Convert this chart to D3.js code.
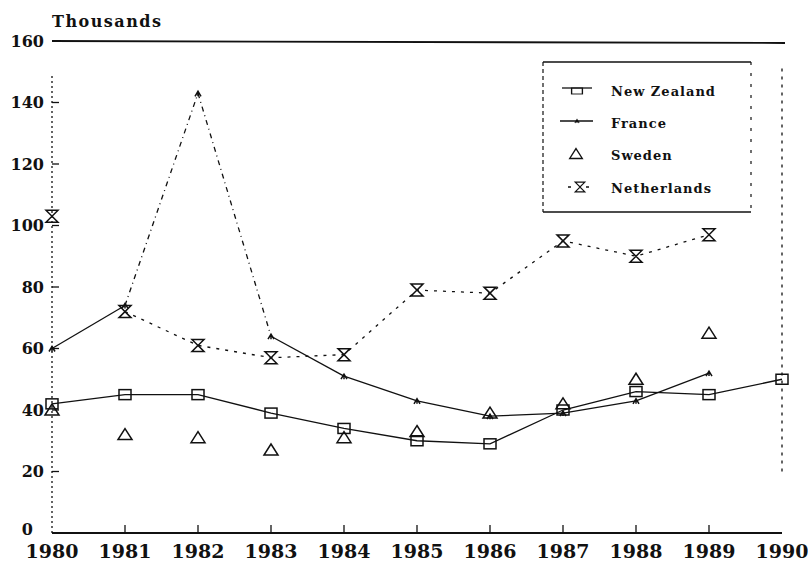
<!DOCTYPE html>
<meta charset="utf-8">
<style>
body { margin: 0; background: #fff; }
text { font-family: "DejaVu Serif", serif; font-weight: bold; fill: #111; }
.line { fill: none; stroke: #111; stroke-width: 1.3px; }
.mark { fill: none; stroke: #111; stroke-width: 1.5px; }
</style>
<body>
<script src="https://d3js.org/d3.v7.min.js"></script>
<script>
var years = [1980, 1981, 1982, 1983, 1984, 1985, 1986, 1987, 1988, 1989, 1990];
var yTicks = [0, 20, 40, 60, 80, 100, 120, 140, 160];

var newZealand = [42, 45, 45, 39, 34, 30, 29, 40, 46, 45, 50];
var france = [60, 74, 143, 64, 51, 43, 38, 39, 43, 52];
var sweden = [40, 32, 31, 27, 31, 33, 39, 42, 50, 65];
var netherlands = [103, 72, 61, 57, 58, 79, 78, 95, 90, 97];

var legendNames = ["New Zealand", "France", "Sweden", "Netherlands"];

var width = 808, height = 563;

var x = d3.scaleLinear().domain([1980, 1990]).range([52, 782]);
var y = d3.scaleLinear().domain([0, 160]).range([533, 41]);

var svg = d3.select("body").append("svg")
    .attr("width", width)
    .attr("height", height);

// frame
svg.append("line")
    .attr("x1", x(1980)).attr("x2", x(1990) + 3)
    .attr("y1", y(160)).attr("y2", y(160) + 2)
    .attr("stroke", "#111").attr("stroke-width", 1.8);
svg.append("line")
    .attr("x1", x(1980)).attr("x2", x(1990))
    .attr("y1", y(0)).attr("y2", y(0))
    .attr("stroke", "#111").attr("stroke-width", 1.8);
svg.append("line")
    .attr("x1", x(1980)).attr("x2", x(1980))
    .attr("y1", y(0)).attr("y2", 76)
    .attr("stroke", "#111").attr("stroke-width", 1.3)
    .attr("stroke-dasharray", "2,3");
svg.append("line")
    .attr("x1", x(1990)).attr("x2", x(1990))
    .attr("y1", y(20)).attr("y2", 66)
    .attr("stroke", "#111").attr("stroke-width", 1.3)
    .attr("stroke-dasharray", "3,5");

// y ticks
svg.selectAll(".ytick")
    .data(yTicks.filter(function(d) { return d > 0 && d < 160; }))
  .enter().append("line")
    .attr("x1", x(1980)).attr("x2", x(1980) + 7)
    .attr("y1", function(d) { return y(d); })
    .attr("y2", function(d) { return y(d); })
    .attr("stroke", "#111").attr("stroke-width", 1.3);

svg.selectAll(".ylab")
    .data(yTicks)
  .enter().append("text")
    .attr("x", function(d) { return d === 0 ? 33 : 44; })
    .attr("y", function(d) { return d === 0 ? y(d) - 4 : y(d); })
    .attr("dy", "0.36em")
    .attr("text-anchor", "end")
    .style("font-size", "16px")
    .text(function(d) { return d; });

// x ticks
svg.selectAll(".xtick")
    .data(years.slice(1, -1))
  .enter().append("line")
    .attr("x1", function(d) { return x(d); })
    .attr("x2", function(d) { return x(d); })
    .attr("y1", y(0)).attr("y2", y(0) - 8)
    .attr("stroke", "#111").attr("stroke-width", 1.3);

svg.selectAll(".xlab")
    .data(years)
  .enter().append("text")
    .attr("x", function(d) { return x(d); })
    .attr("y", 558)
    .attr("text-anchor", "middle")
    .style("font-size", "19px")
    .text(function(d) { return d; });

svg.append("text")
    .attr("x", 52).attr("y", 27)
    .style("font-size", "16px")
    .style("letter-spacing", "1.5px")
    .text("Thousands");

// lines
var nzLine = d3.line()
    .x(function(d, i) { return x(years[i]); })
    .y(function(d) { return y(d); });

svg.append("path")
    .datum(newZealand)
    .attr("class", "line")
    .attr("d", nzLine);

var frPts = france.map(function(d, i) { return [x(years[i]), y(d)]; });
d3.pairs(frPts).forEach(function(p, i) {
  var dashed = (i === 1 || i === 2);
  svg.append("path")
      .attr("class", "line")
      .attr("d", d3.line()(p))
      .attr("stroke-width", dashed ? 1.2 : 1.3)
      .attr("stroke-dasharray", dashed ? "5,4,1,4" : null);
});

var nlPts = netherlands.map(function(d, i) { return [x(years[i]), y(d)]; });
svg.append("path")
    .attr("class", "line")
    .attr("d", d3.line()(nlPts.slice(1)))
    .attr("stroke-width", 1.3)
    .attr("stroke-dasharray", "3,6");

// markers
function square(g) {
  g.append("rect").attr("class", "mark")
      .attr("x", -6).attr("y", -5).attr("width", 12).attr("height", 10);
}
function triangle(g) {
  g.append("path").attr("class", "mark")
      .attr("d", "M0,-6L7,5L-7,5Z");
}
function hourglass(g) {
  g.append("path").attr("class", "mark")
      .attr("d", "M-6,-6H6L0,0Z M-6,6H6L0,0Z");
}
function tick(g) {
  g.append("path").attr("class", "mark")
      .attr("stroke-width", 1.4)
      .attr("d", "M-3,3L0,-2L3,3 M0,-2V3");
}

function drawMarks(values, shape) {
  values.forEach(function(d, i) {
    var g = svg.append("g")
        .attr("transform", "translate(" + x(years[i]) + "," + y(d) + ")");
    shape(g);
  });
}

drawMarks(newZealand, square);
drawMarks(france, tick);
drawMarks(sweden, triangle);
drawMarks(netherlands, hourglass);

// legend
var legend = svg.append("g");
legend.append("rect")
    .attr("x", 543).attr("y", 62).attr("width", 208).attr("height", 150)
    .attr("fill", "#fff").attr("stroke", "none");
legend.append("line")
    .attr("x1", 543).attr("x2", 751).attr("y1", 62).attr("y2", 62)
    .attr("stroke", "#111").attr("stroke-width", 1.5);
legend.append("line")
    .attr("x1", 543).attr("x2", 751).attr("y1", 212).attr("y2", 212)
    .attr("stroke", "#111").attr("stroke-width", 1.5);
legend.append("line")
    .attr("x1", 543).attr("x2", 543).attr("y1", 62).attr("y2", 212)
    .attr("stroke", "#111").attr("stroke-width", 1.2).attr("stroke-dasharray", "4,3");
legend.append("line")
    .attr("x1", 751).attr("x2", 751).attr("y1", 62).attr("y2", 212)
    .attr("stroke", "#111").attr("stroke-width", 1.2).attr("stroke-dasharray", "3,8");

var rowY = [91, 123, 155, 188];

legend.selectAll(".ltext")
    .data(legendNames)
  .enter().append("text")
    .attr("x", 611)
    .attr("y", function(d, i) { return rowY[i] + 5; })
    .style("font-size", "13px")
    .style("letter-spacing", "1px")
    .text(function(d) { return d; });

legend.append("line").attr("class", "line")
    .attr("x1", 562).attr("x2", 592).attr("y1", rowY[0] - 3).attr("y2", rowY[0] - 3)
    .attr("stroke", "#111");
square(legend.append("g").attr("transform", "translate(577," + (rowY[0]) + ") scale(0.9,0.6)"));

legend.append("line").attr("class", "line")
    .attr("x1", 560).attr("x2", 593).attr("y1", rowY[1] - 2).attr("y2", rowY[1] - 2)
    .attr("stroke", "#111");
tick(legend.append("g").attr("transform", "translate(577," + (rowY[1] - 2) + ") scale(0.7)"));

triangle(legend.append("g").attr("transform", "translate(576," + (rowY[2] - 1) + ") scale(0.9)"));

legend.append("line").attr("class", "line")
    .attr("x1", 568).attr("x2", 591).attr("y1", rowY[3] - 1).attr("y2", rowY[3] - 1)
    .attr("stroke", "#111").attr("stroke-dasharray", "3,15,3");
hourglass(legend.append("g").attr("transform", "translate(580," + (rowY[3] - 1) + ") scale(0.8)"));
</script>
</body>
